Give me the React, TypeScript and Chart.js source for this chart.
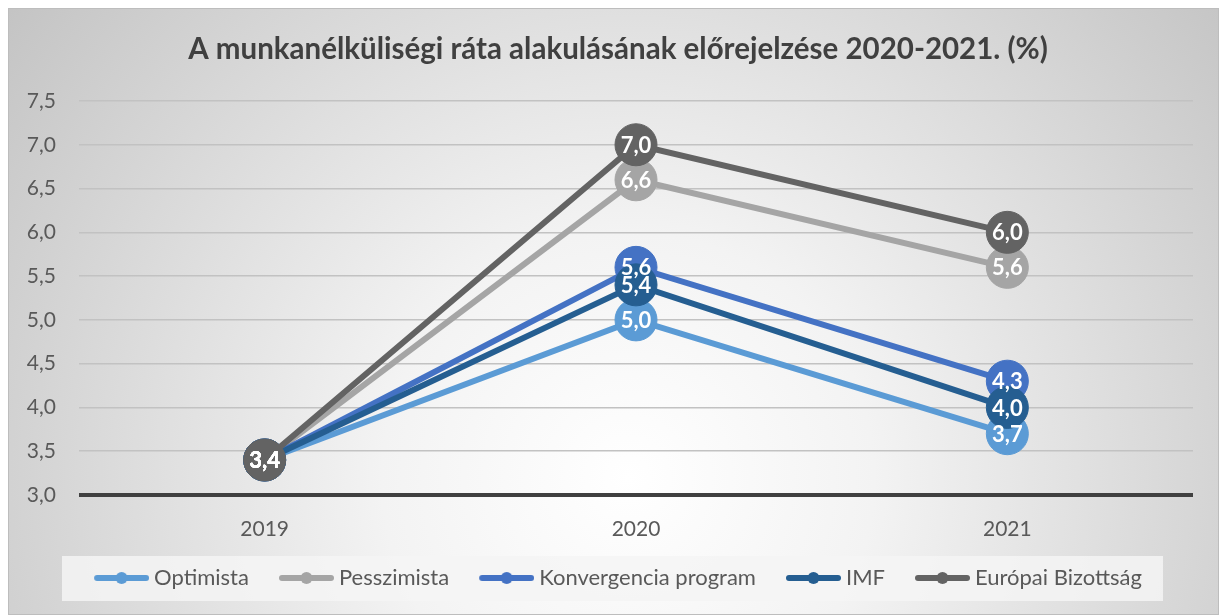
import React, { useEffect, useRef } from "react";
import { Chart, registerables } from "chart.js";

Chart.register(...registerables);

const years = ["2019", "2020", "2021"];
const seriesNames = ["Optimista", "Pesszimista", "Konvergencia program", "IMF", "Európai Bizottság"];
const optimista = [3.4, 5.0, 3.7];
const pesszimista = [3.4, 6.6, 5.6];
const konvergencia = [3.4, 5.6, 4.3];
const imf = [3.4, 5.4, 4.0];
const europaiBizottsag = [3.4, 7.0, 6.0];
const seriesValues = [optimista, pesszimista, konvergencia, imf, europaiBizottsag];
const seriesColors = ["#5B9BD5", "#A5A5A5", "#4472C4", "#255E91", "#636363"];
const yMin = 3.0;
const yMax = 7.5;
const yStep = 0.5;
const chartTitle = "A munkanélküliségi ráta alakulásának előrejelzése 2020-2021. (%)";

const FONT = "Lato, 'Open Sans', sans-serif";
const W = 1211;
const H = 607;

const fmt = (v: number) => v.toFixed(1).replace(".", ",");

// marker image: 61px wide canvas, the visible marker occupies x 6..61
function makeMarker(color: string): HTMLCanvasElement {
  const c = document.createElement("canvas");
  c.width = 61;
  c.height = 14;
  const g = c.getContext("2d")!;
  g.strokeStyle = color;
  g.lineWidth = 6;
  g.lineCap = "round";
  g.beginPath();
  g.moveTo(9, 7);
  g.lineTo(58, 7);
  g.stroke();
  g.fillStyle = color;
  g.beginPath();
  g.arc(33.5, 7, 6, 0, Math.PI * 2);
  g.fill();
  return c;
}

const backgroundPlugin = {
  id: "bgPlugin",
  afterLayout(chart: any) {
    if (chart.legend) chart.legend.left = 35;
    if (chart.titleBlock) chart.titleBlock.left = 35;
  },
  beforeDraw(chart: any) {
    const { ctx, width, height } = chart;
    ctx.save();
    const grad = ctx.createRadialGradient(620, 470, 0, 620, 470, 820);
    grad.addColorStop(0, "#ffffff");
    grad.addColorStop(0.3, "#f3f3f3");
    grad.addColorStop(1, "#c0c0c0");
    ctx.fillStyle = grad;
    ctx.fillRect(0, 0, width, height);
    ctx.strokeStyle = "#bdbdbd";
    ctx.lineWidth = 1;
    ctx.strokeRect(0.5, 0.5, width - 1, height - 1);
    ctx.fillStyle = "rgba(244,244,244,0.85)";
    ctx.fillRect(54, 548, 1101, 45);
    ctx.restore();
  },
};

const dataLabelPlugin = {
  id: "dataLabels",
  afterDatasetsDraw(chart: any) {
    const { ctx } = chart;
    ctx.save();
    ctx.font = `bold 22px ${FONT}`;
    ctx.fillStyle = "#ffffff";
    ctx.textAlign = "center";
    ctx.textBaseline = "middle";
    chart.data.datasets.forEach((ds: any, i: number) => {
      const meta = chart.getDatasetMeta(i);
      meta.data.forEach((pt: any, j: number) => {
        ctx.fillText(fmt(ds.data[j]), pt.x, pt.y + 1);
      });
    });
    ctx.restore();
  },
};

export default function App() {
  const ref = useRef<HTMLCanvasElement | null>(null);

  useEffect(() => {
    if (!ref.current) return;
    document.body.style.overflow = "hidden";
    const markers = seriesColors.map((c) => makeMarker(c));
    const chart = new Chart(ref.current, {
      type: "line",
      data: {
        labels: years,
        datasets: seriesNames.map((name, i) => ({
          label: name,
          data: seriesValues[i],
          borderColor: seriesColors[i],
          backgroundColor: seriesColors[i],
          borderWidth: 6,
          pointRadius: 21,
          pointHoverRadius: 21,
          pointBackgroundColor: seriesColors[i],
          pointBorderColor: seriesColors[i],
          pointBorderWidth: 1,
          tension: 0,
          fill: false,
          clip: false as any,
          order: seriesNames.length - i,
        })),
      },
      options: {
        animation: false,
        responsive: false,
        events: [],
        layout: { padding: { left: 0, right: 26, top: 10, bottom: 16 } },
        plugins: {
          title: {
            display: true,
            text: chartTitle,
            color: "#404040",
            font: { family: FONT, size: 29.5, weight: "bold" },
            padding: { top: 13.3, bottom: 34.3 },
          },
          legend: {
            display: true,
            position: "bottom",
            labels: {
              usePointStyle: true,
              pointStyleWidth: 49,
              padding: 30,
              color: "#595959",
              font: { family: FONT, size: 22 },
              sort: (a: any, b: any) => a.datasetIndex - b.datasetIndex,
              generateLabels: () =>
                seriesNames.map((name, i) => ({
                  text: name,
                  datasetIndex: i,
                  pointStyle: markers[i] as any,
                  fillStyle: seriesColors[i],
                  strokeStyle: seriesColors[i],
                  lineWidth: 0,
                  hidden: false,
                  fontColor: "#595959",
                })),
            },
          },
          tooltip: { enabled: false },
        },
        scales: {
          x: {
            offset: true,
            grid: { display: false, drawTicks: false },
            border: { display: false },
            ticks: { color: "#595959", font: { family: FONT, size: 21 }, padding: 22 },
            afterFit: (s: any) => {
              s.height = 42;
            },
          },
          y: {
            min: yMin,
            max: yMax,
            grid: {
              drawTicks: false,
              color: (c: any) => (c.tick && c.tick.value === yMin ? "#404040" : "#c2c2c2"),
              lineWidth: (c: any) => (c.tick && c.tick.value === yMin ? 4 : 1.5),
            },
            border: { display: false },
            ticks: {
              stepSize: yStep,
              color: "#595959",
              font: { family: FONT, size: 21 },
              padding: 23,
              callback: (v: any) => fmt(Number(v)),
            },
            afterFit: (s: any) => {
              s.width = 71;
            },
          },
        },
      },
      plugins: [backgroundPlugin, dataLabelPlugin],
    });
    return () => chart.destroy();
  }, []);

  return (
    <div style={{ position: "absolute", left: 8, top: 8, width: W, height: H }}>
      <canvas ref={ref} width={W} height={H} style={{ width: W, height: H, display: "block" }} />
    </div>
  );
}
